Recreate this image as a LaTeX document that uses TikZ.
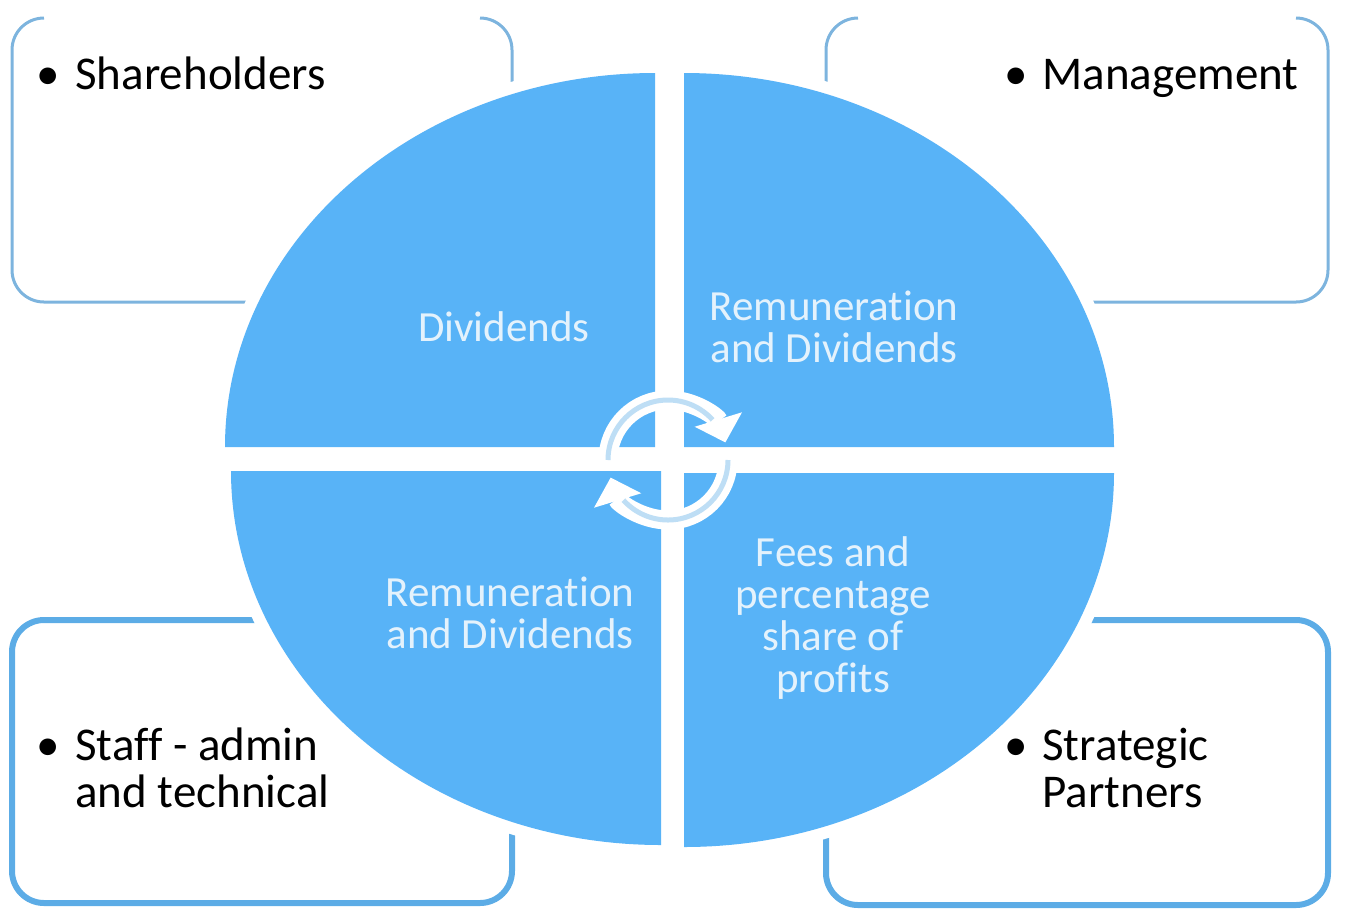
\documentclass[tikz,border=0pt]{standalone}
\usepackage{fontspec}
\setmainfont{Carlito}[Ligatures=CommonOff]
\usepackage{xcolor}
\usetikzlibrary{arrows.meta}
\definecolor{wedgeblue}{RGB}{88,179,247}
\definecolor{framelight}{RGB}{125,180,222}
\definecolor{framedark}{RGB}{92,172,230}
\definecolor{paletext}{RGB}{228,242,252}
\definecolor{arrowstripe}{RGB}{190,222,245}

\begin{document}
\begin{tikzpicture}[x=0.5pt,y=-0.5pt,
    boxtext/.style={font=\fontsize{23.5}{23.5}\selectfont, align=left, anchor=base west, inner sep=0pt},
    bulletmark/.style={font=\fontsize{23.5}{23.5}\selectfont, anchor=base, inner sep=0pt},
    wedgetext/.style={font=\fontsize{21.5}{21}\selectfont, text=paletext, align=center, anchor=base, inner sep=0pt},
    wedgegap/.style={draw=white, line width=12pt},
    wedgefill/.style={fill=wedgeblue},
    cyclearrow/.style={white, line width=9.5pt, -{Triangle[width=24pt,length=12pt]}},
    arrowline/.style={arrowstripe, line width=2.5pt}]
    \useasboundingbox (0,0) rectangle (1350,912);
    \draw[framelight, line width=1.5pt, rounded corners=16pt] (44,18) -- (12,18) -- (12,302) -- (512,302) -- (512,18) -- (480,18);
    \draw[framelight, line width=1.5pt, rounded corners=16pt] (858,18) -- (826,18) -- (826,302) -- (1328,302) -- (1328,18) -- (1296,18);
    \draw[framedark, line width=3pt, rounded corners=16pt] (12,620) rectangle (512,903);
    \draw[framedark, line width=3pt, rounded corners=16pt] (826,620) rectangle (1328,905);
    \foreach \cx/\cy/\dx/\a/\b in {655/447/-430/180/270, 684/447/430/0/-90, 661/471/-430/180/90, 684/473/430/0/90}
        \draw[wedgegap] (\cx,\cy) -- ++(\dx,0) arc[start angle=\a, end angle=\b, x radius=430, y radius=374] -- cycle;
    \foreach \cx/\cy/\dx/\a/\b in {655/447/-430/180/270, 684/447/430/0/-90, 661/471/-430/180/90, 684/473/430/0/90}
        \fill[wedgefill] (\cx,\cy) -- ++(\dx,0) arc[start angle=\a, end angle=\b, x radius=430, y radius=374] -- cycle;
    \draw[cyclearrow] (608,460) arc[start angle=180, end angle=343, radius=60];
    \draw[cyclearrow] (728,460) arc[start angle=0, end angle=163, radius=60];
    \draw[arrowline] (608,460) arc[start angle=180, end angle=318, radius=60];
    \draw[arrowline] (728,460) arc[start angle=0, end angle=138, radius=60];
    \node[bulletmark] (shdot) at (48,89) {•};
    \node[boxtext] (share) at (75,89) {Shareholders};
    \node[bulletmark] (mgdot) at (1016,89) {•};
    \node[boxtext] (manage) at (1042,89) {Management};
    \node[bulletmark] (stdot) at (48,760) {•};
    \node[boxtext] (staff) at (75,807) {Staff - admin\\and technical};
    \node[bulletmark] (spdot) at (1016,760) {•};
    \node[boxtext] (partner) at (1042,807) {Strategic\\Partners};
    \node[wedgetext] (divid) at (504,341) {Dividends};
    \node[wedgetext] (remtop) at (834,362) {Remuneration\\and Dividends};
    \node[wedgetext] (rembot) at (510,648) {Remuneration\\and Dividends};
    \node[wedgetext] (fees) at (833,692) {Fees and\\percentage\\share of\\profits};
\end{tikzpicture}
\end{document}
